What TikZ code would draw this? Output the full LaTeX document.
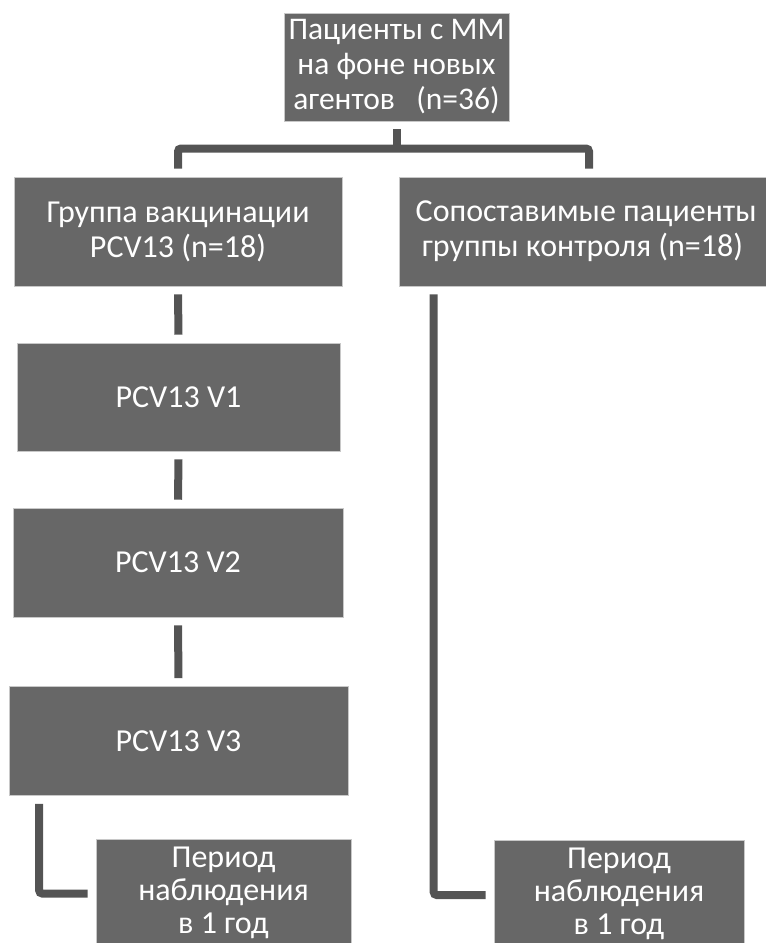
\documentclass[tikz,border=0pt]{standalone}
\usepackage{fontspec}
\setmainfont{Carlito}
\definecolor{boxfill}{HTML}{676767}
\definecolor{linecol}{HTML}{545454}
\definecolor{edgecol}{HTML}{C8C8C8}
\tikzset{
  box/.style={rectangle, fill=boxfill, draw=edgecol, line width=0.6pt, text=white,
    align=center, inner sep=0pt, font=\fontsize{32}{35}\selectfont},
  conn/.style={draw=linecol, line width=8pt, rounded corners=3pt}
}
\begin{document}
\begin{tikzpicture}[x=1pt,y=-1pt]
\useasboundingbox (0,0) rectangle (766,943);
\clip (0,0) rectangle (766,943);
\node[box, minimum width=225pt, minimum height=108pt, font=\fontsize{31.5}{35}\selectfont] (top) at (396.5,67)
  {Пациенты с ММ\\на фоне новых\\агентов \ \ (n=36)};
\node[box, minimum width=328pt, minimum height=109pt] (grp) at (178,231.5)
  {Группа вакцинации\\PCV13 (n=18)};
\node[box, minimum width=367pt, minimum height=109pt] (ctl) at (582.5,231.5)
  {\ Сопоставимые пациенты\\группы контроля (n=18)};
\node[box, minimum width=323pt, minimum height=108pt] (v1) at (178.5,397) {PCV13 V1};
\node[box, minimum width=330pt, minimum height=109pt] (v2) at (178,562.5) {PCV13 V2};
\node[box, minimum width=339pt, minimum height=109pt] (v3) at (178.5,741) {PCV13 V3};
\node[box, minimum width=255pt, minimum height=108pt, font=\fontsize{32}{33}\selectfont] (perL) at (223.5,893)
  {Период\\наблюдения\\в 1 год};
\node[box, minimum width=250pt, minimum height=108pt, font=\fontsize{32}{33}\selectfont] (perR) at (619,894)
  {Период\\наблюдения\\в 1 год};
\coordinate (bary) at (0,148.5);
% top bracket
\draw[conn] ([yshift=-8pt]top.south) -- (top.south |- bary);
\draw[conn] ([yshift=8pt]grp.north) -- (grp.north |- bary) -- ([xshift=6.5pt]ctl.north |- bary) -- ([xshift=6.5pt,yshift=8pt]ctl.north);
% left chain
\draw[conn] ([yshift=-8pt]grp.south) -- ([yshift=8pt]v1.north);
\draw[conn] ([yshift=-8pt]v1.south) -- ([yshift=8pt]v2.north);
\draw[conn] ([yshift=-8pt]v2.south) -- ([yshift=8pt]v3.north);
% elbows
\draw[conn] ([xshift=30.5pt,yshift=-8pt]v3.south west) |- ([xshift=-8pt,yshift=-0.5pt]perL.west);
\draw[conn] ([xshift=35pt,yshift=-8pt]ctl.south west) |- ([xshift=-8pt,yshift=-1pt]perR.west);
\end{tikzpicture}
\end{document}
